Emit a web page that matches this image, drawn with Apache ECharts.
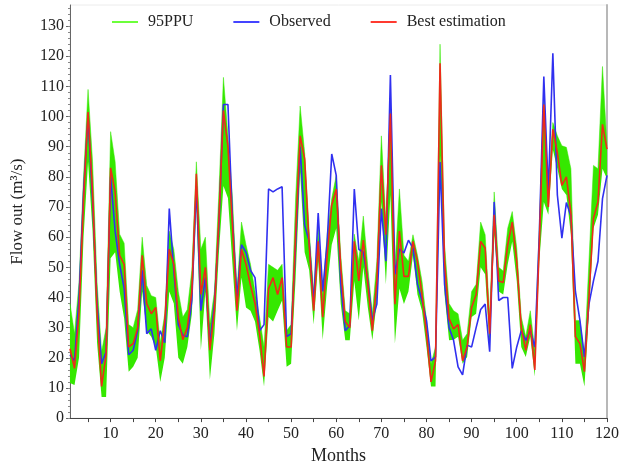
<!DOCTYPE html>
<html>
<head>
<meta charset="utf-8">
<script src="https://cdn.jsdelivr.net/npm/echarts@6/dist/echarts.min.js"></script>
<style>html,body{margin:0;padding:0;background:#fff}#c{width:627px;height:470px}</style>
</head>
<body>
<div id="c"></div>
<script>
const months = Array.from({length: 120}, (_, i) => i + 1);
const xLabelStep = 10;
const xTickStep = 5;
const yTickLabels = [0,10,20,30,40,50,60,70,80,90,100,110,120,130];

const observed = [21,19,40,75,100,72,38,18,22,80,62,51,43,21,22.5,29,49,28,29.6,22.5,
29,25,69.5,49,31,27.5,27,39,77,35.6,46.6,24.7,37.8,64,104,104,66,40,57.5,55,
49,46.6,29,31,76,75,76,76.7,27,28,57.5,90,64,58.6,37.8,68,42,58.6,87.6,80.5,
44.4,29,30.7,76,56,55,45.5,32.4,37.8,69.5,52,113.8,47.7,56,54.8,59,56.4,44.4,39,32.4,
19,20.3,84.9,44.4,30,25.8,17,14.3,24.2,23.6,30,36,37.8,22,71.7,39,40,40,16.5,23.6,
29,25.8,29,23.6,60.8,113.3,75,121,74,59.7,71.5,67,42,32.4,20.3,37.8,45.5,52,72.8,80.5];

const bestEstimation = [23,16.5,35,72,101.5,75,35,10.5,21,83,75,54,51,23.6,24.7,30,54,38,34.6,36.7,
19,32,56,51,33.5,26,30,42,81,41,50,22.5,35.6,66,102,90,64,35.6,56,51,
44,38,28,13.8,43,46.6,41,46.6,23.6,23.6,61,93.6,86,57.5,35.6,58.6,33.5,54,70.6,76,
50,32,30,58.6,45.5,59,44.4,29,45.5,83.8,60.8,101,37.8,62,47,47,58.6,52,41,28,
12,19,117.7,52,33,29.6,31,19,23.6,36.7,41,58.6,56.4,28,67.4,45.5,45,57.5,65,52,
30,22.5,31,16,57.5,104,70,95.8,88,77.2,80,68,27,24.7,15.4,40,66.3,71.7,97.4,89.2];

const ppuLower = [11.6,11,20,60,85,62,25,7,7,53,55,42,33,15.4,17,20,42,29,27,23.6,
12,20,42,38,20,18,23.6,34.5,70.6,22.5,42,12.7,28,55,77,73,51,29,46.6,36.7,
35.6,32,22.5,10.5,33.5,32,35.6,39,17,18,46.6,81.6,55,49,31,52,26,44,57.5,63,
37.8,25.8,25.8,45.5,32.4,50,36.7,25.8,39,71.7,44.4,74,24.7,43,37.8,42,54,41,35.6,23.6,
10.5,10.5,87,41,25.8,26,27,18,20.3,33.5,34.6,50,47.7,23.6,60.8,42,41,51,58.6,45.5,
23.6,20.3,27,13.8,52,71.7,67.4,89,82.7,76,74,60.8,18,18,10.5,34.6,63,67.4,82.7,79.4];

const ppuUpper = [38,28,45,80,109,85,45,22,30,95,85,61,58,31,30,36,60,44,40.6,40,
25,34.6,62,56,42,33.5,36,49,85,56,60,31,42,75,113,93.6,73,42,65,57.5,
51,42,33.5,23.6,51,50,49,51,29,31,73,103.5,88,62,42,63,41,61,72.8,80.5,
54,35.6,34.6,61,52,67,50,34.6,52,93.6,65,102.4,50,76,54,52,60.8,54,45.5,32.4,
18,23.6,124,57.5,38,35.6,34.6,25.8,28,42,44.4,65,60.8,33.5,75,50,48.8,63,68.5,56.4,
33.5,27,35.6,22.5,63,106.7,76,98,93.6,90.3,89.8,82.7,32.4,32.4,20.3,52,83.8,82.7,116.6,90.3];

const bandWidth = ppuUpper.map((v, i) => +(v - ppuLower[i]).toFixed(2));

const serif = "'Liberation Serif', 'DejaVu Serif', serif";
const green = '#35e800';
const chart = echarts.init(document.getElementById('c'), null, {renderer: 'canvas'});

const yMinor = [];
for (let v = 0; v <= 136; v += 2) yMinor.push(v);

chart.setOption({
  animation: false,
  backgroundColor: '#fff',
  grid: {left: 70, right: 20, top: 5, bottom: 48, show: true, borderColor: '#ececec', borderWidth: 1},
  legend: {
    top: 9, left: 107, itemGap: 40, itemWidth: 26, itemHeight: 2, icon: 'rect',
    textStyle: {fontFamily: serif, fontSize: 16, color: '#222', padding: [0, 0, 0, 5]},
    data: [
      {name: '95PPU', itemStyle: {color: '#6cff3a'}},
      {name: 'Observed', itemStyle: {color: '#4444ff'}},
      {name: 'Best estimation', itemStyle: {color: '#ff3a30'}}
    ]
  },
  xAxis: {
    type: 'category', data: months, boundaryGap: false,
    name: 'Months', nameLocation: 'middle', nameGap: 26,
    nameTextStyle: {fontFamily: serif, fontSize: 18, color: '#222'},
    axisLine: {lineStyle: {color: '#444', width: 1}},
    axisTick: {show: true, interval: (i, v) => Number(v) % xTickStep === 0, length: 4, lineStyle: {color: '#444'}},
    axisLabel: {interval: (i, v) => Number(v) % xLabelStep === 0, fontFamily: serif, fontSize: 16, color: '#222', margin: 8},
    splitLine: {show: false}
  },
  yAxis: [
    {
      type: 'value', min: 0, max: 137,
      name: 'Flow out (m³/s)', nameLocation: 'middle', nameGap: 44, nameRotate: 90,
      nameTextStyle: {fontFamily: serif, fontSize: 17, color: '#222'},
      axisLine: {show: true, lineStyle: {color: '#666', width: 1}},
      axisTick: {show: true, customValues: yTickLabels, length: 4, lineStyle: {color: '#666'}},
      axisLabel: {customValues: yTickLabels, fontFamily: serif, fontSize: 16, color: '#222', margin: 6},
      splitLine: {show: false}
    },
    {
      type: 'value', min: 0, max: 137, position: 'right',
      axisLine: {show: true, lineStyle: {color: '#b8b8b8', width: 2}},
      axisTick: {show: false}, axisLabel: {show: false}, splitLine: {show: false}
    },
    {
      type: 'value', min: 0, max: 137, position: 'left',
      axisLine: {show: false},
      axisTick: {show: true, customValues: yMinor, length: 2, lineStyle: {color: '#888'}},
      axisLabel: {show: false}, splitLine: {show: false}
    }
  ],
  series: [
    {
      name: 'ppuLower', type: 'line', stack: 'ppu', data: ppuLower,
      symbol: 'none', lineStyle: {opacity: 0}, silent: true
    },
    {
      name: '95PPU', type: 'line', stack: 'ppu', data: bandWidth,
      symbol: 'none', lineStyle: {width: 0.5, color: green},
      itemStyle: {color: green},
      areaStyle: {color: green, opacity: 1}
    },
    {
      name: 'Observed', type: 'line', data: observed, symbol: 'none',
      lineStyle: {color: '#3030f0', width: 1.6}, itemStyle: {color: '#3030f0'}
    },
    {
      name: 'Best estimation', type: 'line', data: bestEstimation, symbol: 'none',
      lineStyle: {color: '#ee2a1a', width: 1.6}, itemStyle: {color: '#ee2a1a'}
    }
  ]
});
</script>
</body>
</html>
